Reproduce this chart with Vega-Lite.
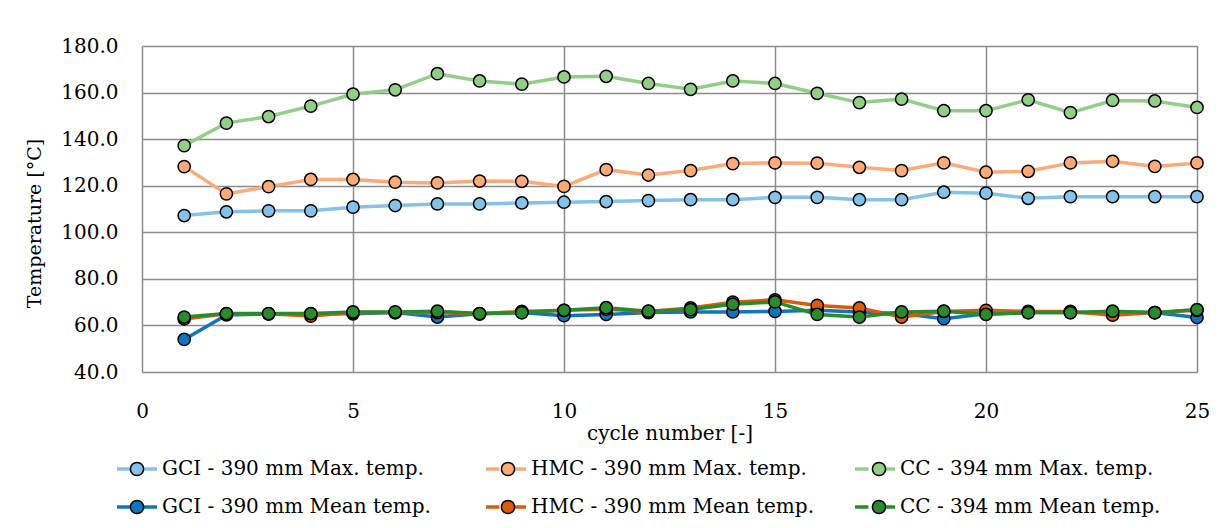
{
  "$schema": "https://vega.github.io/schema/vega-lite/v6.json",
  "width": 1055,
  "height": 326,
  "autosize": "none",
  "padding": {"left": 142, "top": 46, "right": 29, "bottom": 156},
  "background": "white",
  "config": {
    "font": "DejaVu Serif",
    "view": {"stroke": null},
    "axis": {
      "labelFont": "DejaVu Serif",
      "titleFont": "DejaVu Serif",
      "labelColor": "#000000",
      "titleColor": "#000000",
      "titleFontWeight": "normal",
      "labelFontSize": 20,
      "titleFontSize": 19,
      "grid": true,
      "gridColor": "#8c8c8c",
      "gridWidth": 1.5,
      "gridOpacity": 1,
      "domain": false,
      "ticks": false
    },
    "legend": {
      "labelFont": "DejaVu Serif",
      "labelFontSize": 20,
      "labelColor": "#000000",
      "labelLimit": 500
    }
  },
  "data": {
    "values": [
      {"cycle":1,"series":"GCI - 390 mm Max. temp.","temp":107.2},{"cycle":2,"series":"GCI - 390 mm Max. temp.","temp":108.8},{"cycle":3,"series":"GCI - 390 mm Max. temp.","temp":109.2},{"cycle":4,"series":"GCI - 390 mm Max. temp.","temp":109.2},{"cycle":5,"series":"GCI - 390 mm Max. temp.","temp":110.8},{"cycle":6,"series":"GCI - 390 mm Max. temp.","temp":111.5},{"cycle":7,"series":"GCI - 390 mm Max. temp.","temp":112.2},{"cycle":8,"series":"GCI - 390 mm Max. temp.","temp":112.2},{"cycle":9,"series":"GCI - 390 mm Max. temp.","temp":112.6},{"cycle":10,"series":"GCI - 390 mm Max. temp.","temp":112.9},{"cycle":11,"series":"GCI - 390 mm Max. temp.","temp":113.2},{"cycle":12,"series":"GCI - 390 mm Max. temp.","temp":113.6},{"cycle":13,"series":"GCI - 390 mm Max. temp.","temp":114.0},{"cycle":14,"series":"GCI - 390 mm Max. temp.","temp":114.0},{"cycle":15,"series":"GCI - 390 mm Max. temp.","temp":115.0},{"cycle":16,"series":"GCI - 390 mm Max. temp.","temp":115.0},{"cycle":17,"series":"GCI - 390 mm Max. temp.","temp":114.0},{"cycle":18,"series":"GCI - 390 mm Max. temp.","temp":114.0},{"cycle":19,"series":"GCI - 390 mm Max. temp.","temp":117.2},{"cycle":20,"series":"GCI - 390 mm Max. temp.","temp":116.8},{"cycle":21,"series":"GCI - 390 mm Max. temp.","temp":114.6},{"cycle":22,"series":"GCI - 390 mm Max. temp.","temp":115.3},{"cycle":23,"series":"GCI - 390 mm Max. temp.","temp":115.3},{"cycle":24,"series":"GCI - 390 mm Max. temp.","temp":115.3},{"cycle":25,"series":"GCI - 390 mm Max. temp.","temp":115.3},
      {"cycle":1,"series":"HMC - 390 mm Max. temp.","temp":128.2},{"cycle":2,"series":"HMC - 390 mm Max. temp.","temp":116.5},{"cycle":3,"series":"HMC - 390 mm Max. temp.","temp":119.6},{"cycle":4,"series":"HMC - 390 mm Max. temp.","temp":122.7},{"cycle":5,"series":"HMC - 390 mm Max. temp.","temp":122.7},{"cycle":6,"series":"HMC - 390 mm Max. temp.","temp":121.5},{"cycle":7,"series":"HMC - 390 mm Max. temp.","temp":121.2},{"cycle":8,"series":"HMC - 390 mm Max. temp.","temp":122.0},{"cycle":9,"series":"HMC - 390 mm Max. temp.","temp":121.9},{"cycle":10,"series":"HMC - 390 mm Max. temp.","temp":119.7},{"cycle":11,"series":"HMC - 390 mm Max. temp.","temp":126.9},{"cycle":12,"series":"HMC - 390 mm Max. temp.","temp":124.6},{"cycle":13,"series":"HMC - 390 mm Max. temp.","temp":126.5},{"cycle":14,"series":"HMC - 390 mm Max. temp.","temp":129.5},{"cycle":15,"series":"HMC - 390 mm Max. temp.","temp":129.8},{"cycle":16,"series":"HMC - 390 mm Max. temp.","temp":129.7},{"cycle":17,"series":"HMC - 390 mm Max. temp.","temp":127.9},{"cycle":18,"series":"HMC - 390 mm Max. temp.","temp":126.5},{"cycle":19,"series":"HMC - 390 mm Max. temp.","temp":129.8},{"cycle":20,"series":"HMC - 390 mm Max. temp.","temp":125.8},{"cycle":21,"series":"HMC - 390 mm Max. temp.","temp":126.2},{"cycle":22,"series":"HMC - 390 mm Max. temp.","temp":129.8},{"cycle":23,"series":"HMC - 390 mm Max. temp.","temp":130.5},{"cycle":24,"series":"HMC - 390 mm Max. temp.","temp":128.3},{"cycle":25,"series":"HMC - 390 mm Max. temp.","temp":129.8},
      {"cycle":1,"series":"CC - 394 mm Max. temp.","temp":137.2},{"cycle":2,"series":"CC - 394 mm Max. temp.","temp":146.9},{"cycle":3,"series":"CC - 394 mm Max. temp.","temp":149.7},{"cycle":4,"series":"CC - 394 mm Max. temp.","temp":154.2},{"cycle":5,"series":"CC - 394 mm Max. temp.","temp":159.3},{"cycle":6,"series":"CC - 394 mm Max. temp.","temp":161.2},{"cycle":7,"series":"CC - 394 mm Max. temp.","temp":168.1},{"cycle":8,"series":"CC - 394 mm Max. temp.","temp":165.0},{"cycle":9,"series":"CC - 394 mm Max. temp.","temp":163.6},{"cycle":10,"series":"CC - 394 mm Max. temp.","temp":166.7},{"cycle":11,"series":"CC - 394 mm Max. temp.","temp":167.0},{"cycle":12,"series":"CC - 394 mm Max. temp.","temp":163.9},{"cycle":13,"series":"CC - 394 mm Max. temp.","temp":161.4},{"cycle":14,"series":"CC - 394 mm Max. temp.","temp":165.0},{"cycle":15,"series":"CC - 394 mm Max. temp.","temp":163.9},{"cycle":16,"series":"CC - 394 mm Max. temp.","temp":159.7},{"cycle":17,"series":"CC - 394 mm Max. temp.","temp":155.7},{"cycle":18,"series":"CC - 394 mm Max. temp.","temp":157.2},{"cycle":19,"series":"CC - 394 mm Max. temp.","temp":152.2},{"cycle":20,"series":"CC - 394 mm Max. temp.","temp":152.2},{"cycle":21,"series":"CC - 394 mm Max. temp.","temp":156.9},{"cycle":22,"series":"CC - 394 mm Max. temp.","temp":151.4},{"cycle":23,"series":"CC - 394 mm Max. temp.","temp":156.6},{"cycle":24,"series":"CC - 394 mm Max. temp.","temp":156.4},{"cycle":25,"series":"CC - 394 mm Max. temp.","temp":153.6},
      {"cycle":1,"series":"GCI - 390 mm Mean temp.","temp":54.0},{"cycle":2,"series":"GCI - 390 mm Mean temp.","temp":64.5},{"cycle":3,"series":"GCI - 390 mm Mean temp.","temp":65.0},{"cycle":4,"series":"GCI - 390 mm Mean temp.","temp":65.0},{"cycle":5,"series":"GCI - 390 mm Mean temp.","temp":65.0},{"cycle":6,"series":"GCI - 390 mm Mean temp.","temp":65.5},{"cycle":7,"series":"GCI - 390 mm Mean temp.","temp":63.6},{"cycle":8,"series":"GCI - 390 mm Mean temp.","temp":65.0},{"cycle":9,"series":"GCI - 390 mm Mean temp.","temp":65.5},{"cycle":10,"series":"GCI - 390 mm Mean temp.","temp":64.2},{"cycle":11,"series":"GCI - 390 mm Mean temp.","temp":64.7},{"cycle":12,"series":"GCI - 390 mm Mean temp.","temp":65.5},{"cycle":13,"series":"GCI - 390 mm Mean temp.","temp":65.8},{"cycle":14,"series":"GCI - 390 mm Mean temp.","temp":65.8},{"cycle":15,"series":"GCI - 390 mm Mean temp.","temp":66.0},{"cycle":16,"series":"GCI - 390 mm Mean temp.","temp":66.5},{"cycle":17,"series":"GCI - 390 mm Mean temp.","temp":65.8},{"cycle":18,"series":"GCI - 390 mm Mean temp.","temp":65.1},{"cycle":19,"series":"GCI - 390 mm Mean temp.","temp":62.9},{"cycle":20,"series":"GCI - 390 mm Mean temp.","temp":65.0},{"cycle":21,"series":"GCI - 390 mm Mean temp.","temp":65.5},{"cycle":22,"series":"GCI - 390 mm Mean temp.","temp":65.5},{"cycle":23,"series":"GCI - 390 mm Mean temp.","temp":65.5},{"cycle":24,"series":"GCI - 390 mm Mean temp.","temp":65.5},{"cycle":25,"series":"GCI - 390 mm Mean temp.","temp":63.4},
      {"cycle":1,"series":"HMC - 390 mm Mean temp.","temp":62.8},{"cycle":2,"series":"HMC - 390 mm Mean temp.","temp":65.0},{"cycle":3,"series":"HMC - 390 mm Mean temp.","temp":65.0},{"cycle":4,"series":"HMC - 390 mm Mean temp.","temp":64.0},{"cycle":5,"series":"HMC - 390 mm Mean temp.","temp":65.5},{"cycle":6,"series":"HMC - 390 mm Mean temp.","temp":65.5},{"cycle":7,"series":"HMC - 390 mm Mean temp.","temp":65.5},{"cycle":8,"series":"HMC - 390 mm Mean temp.","temp":65.0},{"cycle":9,"series":"HMC - 390 mm Mean temp.","temp":66.0},{"cycle":10,"series":"HMC - 390 mm Mean temp.","temp":66.5},{"cycle":11,"series":"HMC - 390 mm Mean temp.","temp":67.0},{"cycle":12,"series":"HMC - 390 mm Mean temp.","temp":66.0},{"cycle":13,"series":"HMC - 390 mm Mean temp.","temp":67.5},{"cycle":14,"series":"HMC - 390 mm Mean temp.","temp":70.0},{"cycle":15,"series":"HMC - 390 mm Mean temp.","temp":71.0},{"cycle":16,"series":"HMC - 390 mm Mean temp.","temp":68.6},{"cycle":17,"series":"HMC - 390 mm Mean temp.","temp":67.5},{"cycle":18,"series":"HMC - 390 mm Mean temp.","temp":63.6},{"cycle":19,"series":"HMC - 390 mm Mean temp.","temp":66.0},{"cycle":20,"series":"HMC - 390 mm Mean temp.","temp":66.5},{"cycle":21,"series":"HMC - 390 mm Mean temp.","temp":66.0},{"cycle":22,"series":"HMC - 390 mm Mean temp.","temp":66.0},{"cycle":23,"series":"HMC - 390 mm Mean temp.","temp":64.4},{"cycle":24,"series":"HMC - 390 mm Mean temp.","temp":65.5},{"cycle":25,"series":"HMC - 390 mm Mean temp.","temp":66.5},
      {"cycle":1,"series":"CC - 394 mm Mean temp.","temp":63.6},{"cycle":2,"series":"CC - 394 mm Mean temp.","temp":65.1},{"cycle":3,"series":"CC - 394 mm Mean temp.","temp":65.1},{"cycle":4,"series":"CC - 394 mm Mean temp.","temp":65.1},{"cycle":5,"series":"CC - 394 mm Mean temp.","temp":65.8},{"cycle":6,"series":"CC - 394 mm Mean temp.","temp":65.8},{"cycle":7,"series":"CC - 394 mm Mean temp.","temp":66.1},{"cycle":8,"series":"CC - 394 mm Mean temp.","temp":65.1},{"cycle":9,"series":"CC - 394 mm Mean temp.","temp":65.5},{"cycle":10,"series":"CC - 394 mm Mean temp.","temp":66.5},{"cycle":11,"series":"CC - 394 mm Mean temp.","temp":67.6},{"cycle":12,"series":"CC - 394 mm Mean temp.","temp":66.1},{"cycle":13,"series":"CC - 394 mm Mean temp.","temp":66.8},{"cycle":14,"series":"CC - 394 mm Mean temp.","temp":69.1},{"cycle":15,"series":"CC - 394 mm Mean temp.","temp":70.1},{"cycle":16,"series":"CC - 394 mm Mean temp.","temp":64.7},{"cycle":17,"series":"CC - 394 mm Mean temp.","temp":63.6},{"cycle":18,"series":"CC - 394 mm Mean temp.","temp":65.8},{"cycle":19,"series":"CC - 394 mm Mean temp.","temp":66.1},{"cycle":20,"series":"CC - 394 mm Mean temp.","temp":64.7},{"cycle":21,"series":"CC - 394 mm Mean temp.","temp":65.5},{"cycle":22,"series":"CC - 394 mm Mean temp.","temp":65.5},{"cycle":23,"series":"CC - 394 mm Mean temp.","temp":66.1},{"cycle":24,"series":"CC - 394 mm Mean temp.","temp":65.5},{"cycle":25,"series":"CC - 394 mm Mean temp.","temp":66.8}
    ]
  },
  "encoding": {
    "x": {
      "field": "cycle",
      "type": "quantitative",
      "scale": {"domain": [0, 25], "nice": false, "zero": false},
      "axis": {"values": [0, 5, 10, 15, 20, 25], "title": "cycle number [-]", "labelPadding": 29, "titlePadding": 2, "titleFontSize": 20, "labelFlush": false}
    },
    "y": {
      "field": "temp",
      "type": "quantitative",
      "scale": {"domain": [40, 180], "nice": false, "zero": false},
      "axis": {"values": [40, 60, 80, 100, 120, 140, 160, 180], "format": ".1f", "title": "Temperature [°C]", "labelPadding": 24, "titlePadding": 16, "titleY": 177, "labelFlush": false}
    }
  },
  "layer": [
    {
      "mark": {"type": "line", "strokeWidth": 3.5},
      "encoding": {
        "stroke": {
          "field": "series",
          "type": "nominal",
          "scale": {
            "domain": ["GCI - 390 mm Max. temp.", "HMC - 390 mm Max. temp.", "CC - 394 mm Max. temp.", "GCI - 390 mm Mean temp.", "HMC - 390 mm Mean temp.", "CC - 394 mm Mean temp."],
            "range": ["#86C1E8", "#FDAA79", "#93CE88", "#1174BF", "#DB5A0C", "#2B8A2B"]
          },
          "legend": {
            "title": null,
            "orient": "none",
            "legendX": -27,
            "legendY": 401,
            "direction": "horizontal",
            "columns": 3,
            "gridAlign": "all",
            "columnPadding": 34,
            "rowPadding": 6,
            "padding": 0,
            "symbolType": "M-1,0H-0.33M0.33,0H1",
            "symbolSize": 1600,
            "symbolStrokeWidth": 3.5,
            "symbolFillColor": "transparent",
            "labelOffset": 3
          }
        }
      }
    },
    {
      "mark": {"type": "point", "filled": true, "size": 150, "stroke": "#000000", "strokeWidth": 1.5, "opacity": 1},
      "encoding": {
        "fill": {
          "field": "series",
          "type": "nominal",
          "sort": ["GCI - 390 mm Max. temp.", "HMC - 390 mm Max. temp.", "CC - 394 mm Max. temp.", "GCI - 390 mm Mean temp.", "HMC - 390 mm Mean temp.", "CC - 394 mm Mean temp."],
          "scale": {"range": ["#86C1E8", "#FDAA79", "#93CE88", "#1174BF", "#DB5A0C", "#2B8A2B"]},
          "legend": {
            "title": null,
            "orient": "none",
            "legendX": -27,
            "legendY": 401,
            "direction": "horizontal",
            "columns": 3,
            "gridAlign": "all",
            "columnPadding": 322,
            "rowPadding": 6,
            "padding": 0,
            "symbolType": "M-0.988,0L-0.988,0M0.988,0L0.988,0M-0.31,0A0.31,0.31 0 1,0 0.31,0A0.31,0.31 0 1,0 -0.31,0Z",
            "symbolSize": 1806,
            "symbolStrokeColor": "#000000",
            "symbolStrokeWidth": 1.5,
            "symbolOpacity": 1,
            "labelOffset": 3,
            "labelExpr": "''"
          }
        }
      }
    }
  ]
}
